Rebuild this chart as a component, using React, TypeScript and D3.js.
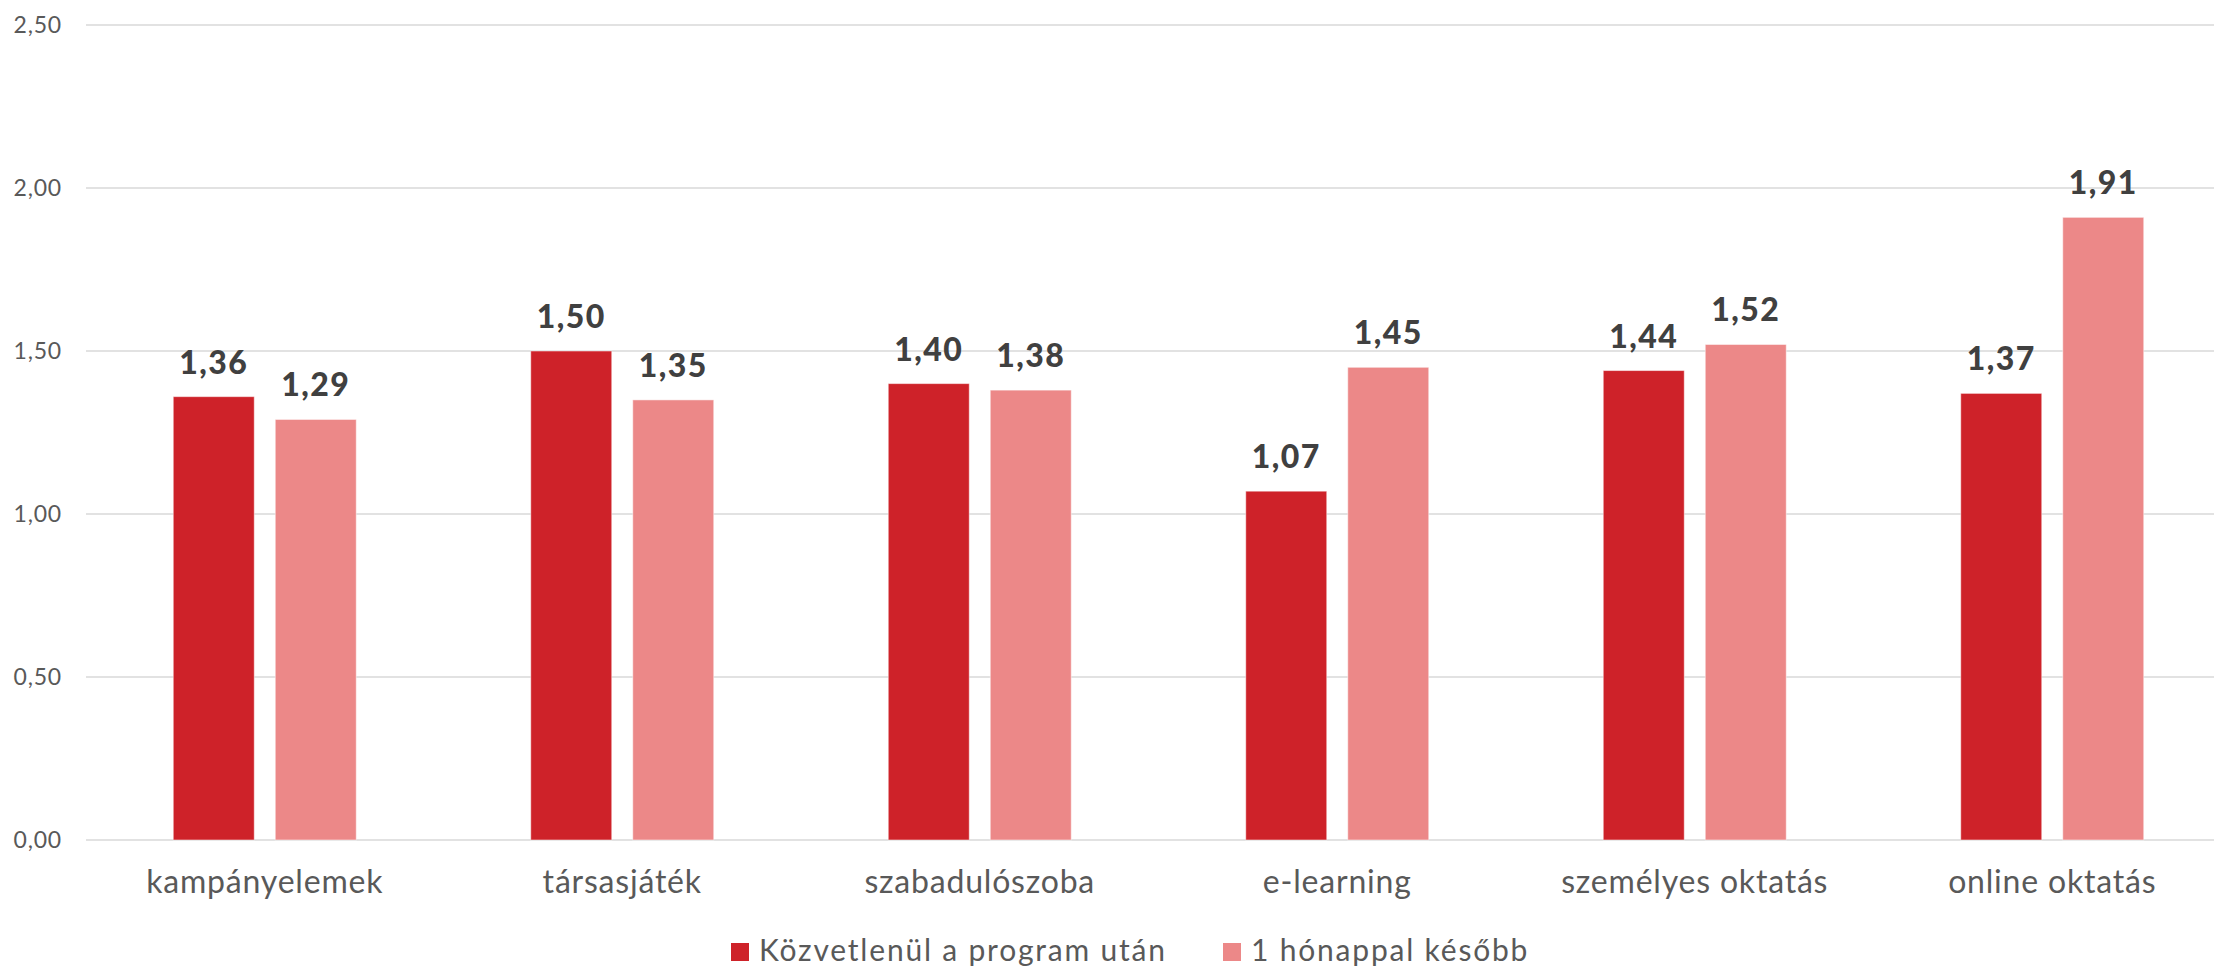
import { useRef, useEffect } from "react";
import * as d3 from "d3";

const categories = [
  "kampányelemek",
  "társasjáték",
  "szabadulószoba",
  "e-learning",
  "személyes oktatás",
  "online oktatás",
];
const seriesNames = ["Közvetlenül a program után", "1 hónappal később"];
const immediately = [1.36, 1.5, 1.4, 1.07, 1.44, 1.37];
const oneMonthLater = [1.29, 1.35, 1.38, 1.45, 1.52, 1.91];
const yTicks = [0, 0.5, 1, 1.5, 2, 2.5];

const colors = ["#CE2229", "#EC8888"];
const font = "Lato, 'Open Sans', sans-serif";
const fmt = (v: number) => v.toFixed(2).replace(".", ",");

export default function App() {
  const svgRef = useRef<SVGSVGElement>(null);

  useEffect(() => {
    if (!svgRef.current) return;
    document.body.style.margin = "0";
    const width = 2214;
    const height = 967;
    const margin = { top: 25, left: 86, bottom: 840 };

    const svg = d3.select(svgRef.current);
    svg.selectAll("*").remove();
    svg.attr("width", width).attr("height", height);

    const x = d3
      .scaleBand<string>()
      .domain(categories)
      .range([margin.left, margin.left + 357.5 * categories.length]);
    const y = d3.scaleLinear().domain([0, 2.5]).range([margin.bottom, margin.top]);

    // Grid
    svg
      .append("g")
      .selectAll("line")
      .data(yTicks)
      .join("line")
      .attr("x1", margin.left)
      .attr("x2", width)
      .attr("y1", (d) => y(d))
      .attr("y2", (d) => y(d))
      .attr("stroke", "#D9D9D9")
      .attr("stroke-width", 1.5);

    // Y tick labels
    svg
      .append("g")
      .selectAll("text")
      .data(yTicks)
      .join("text")
      .attr("x", 62)
      .attr("y", (d) => y(d) + 8)
      .attr("text-anchor", "end")
      .attr("fill", "#595959")
      .attr("font-size", 23)
      .attr("letter-spacing", 0.8)
      .attr("font-family", font)
      .text((d) => fmt(d));

    const series = [immediately, oneMonthLater];
    const barW = 81;
    const gap = 21;

    series.forEach((vals, si) => {
      const g = svg.append("g");
      const bx = (c: string) =>
        x(c)! + x.bandwidth() / 2 + (si === 0 ? -gap / 2 - barW : gap / 2);
      g.selectAll("rect")
        .data(categories)
        .join("rect")
        .attr("x", (c) => bx(c))
        .attr("y", (c, i) => y(vals[i]))
        .attr("width", barW)
        .attr("height", (c, i) => y(0) - y(vals[i]))
        .attr("fill", colors[si])
        .attr("stroke", "#fff")
        .attr("stroke-opacity", 0.5)
        .attr("stroke-width", 1);
      g.selectAll("text")
        .data(categories)
        .join("text")
        .attr("x", (c) => bx(c) + barW / 2)
        .attr("y", (c, i) => y(vals[i]) - 23)
        .attr("text-anchor", "middle")
        .attr("fill", "#404040")
        .attr("font-size", 32)
        .attr("font-weight", 900)
        .attr("letter-spacing", 1.5)
        .attr("font-family", font)
        .text((c, i) => fmt(vals[i]));
    });

    // Category labels
    svg
      .append("g")
      .selectAll("text")
      .data(categories)
      .join("text")
      .attr("x", (c) => x(c)! + x.bandwidth() / 2)
      .attr("y", 893)
      .attr("text-anchor", "middle")
      .attr("fill", "#595959")
      .attr("font-size", 32)
      .attr("letter-spacing", 0.8)
      .attr("font-family", font)
      .text((c) => c);

    // Legend
    const legendX = [731, 1223];
    seriesNames.forEach((name, i) => {
      svg
        .append("rect")
        .attr("x", legendX[i])
        .attr("y", 943)
        .attr("width", 18)
        .attr("height", 18)
        .attr("fill", colors[i]);
      svg
        .append("text")
        .attr("x", legendX[i] + 28)
        .attr("y", 961)
        .attr("fill", "#595959")
        .attr("font-size", 30)
        .attr("letter-spacing", 1.8)
        .attr("font-family", font)
        .text(name);
    });
  }, []);

  return <svg ref={svgRef} style={{ display: "block" }} />;
}
